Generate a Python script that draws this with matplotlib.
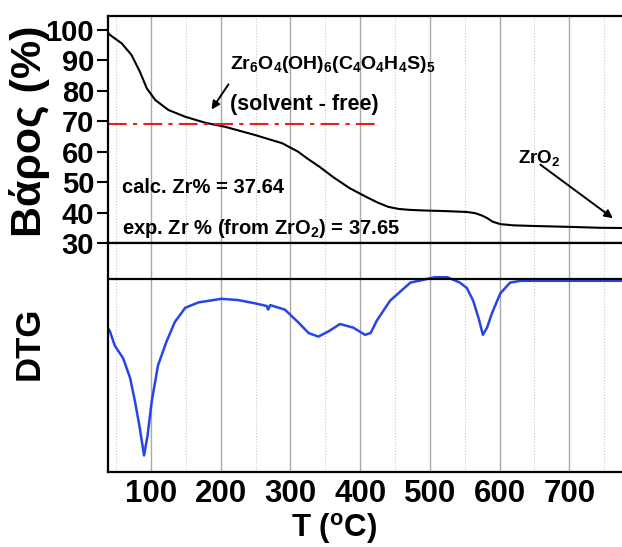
import matplotlib
matplotlib.use("Agg")
import matplotlib.pyplot as plt
from matplotlib.ticker import MultipleLocator

plt.rcParams['font.family'] = ['Liberation Sans', 'DejaVu Sans']
plt.rcParams['font.weight'] = 'bold'
plt.rcParams['mathtext.fontset'] = 'custom'
plt.rcParams['mathtext.rm'] = 'Liberation Sans:bold'
plt.rcParams['mathtext.it'] = 'Liberation Sans:bold'
plt.rcParams['mathtext.bf'] = 'Liberation Sans:bold'

# TGA curve (weight %)
tga_T = [38, 41, 58, 72, 84, 94, 106, 125, 149, 178, 206, 249, 288, 311, 324,
         342, 361, 385, 410, 425, 440, 455, 470, 490, 520, 553, 565, 575, 582,
         590, 601, 620, 648, 700, 744, 790]
tga_w = [99.2, 98.4, 95.6, 91.8, 86.3, 80.8, 77, 73.7, 71.5, 69.5, 68.2, 65.5,
         62.8, 60, 57.8, 55, 51.7, 48, 45, 43.3, 41.9, 41.2, 40.9, 40.7, 40.5,
         40.2, 39.8, 39.0, 38.2, 37.0, 36.2, 35.8, 35.6, 35.3, 35, 34.9]

# DTG curve (arbitrary units)
dtg_T = [38, 41, 48, 60, 70, 77, 84, 90, 95, 101, 110, 122, 134, 149, 168, 201,
         225, 249, 266, 268, 271, 292, 311, 326, 340, 355, 371, 390, 407, 415,
         424, 443, 472, 490, 507, 525, 543, 553, 562, 570, 576, 582, 589, 601,
         615, 630, 700, 790]
dtg_v = [-0.27, -0.29, -0.37, -0.44, -0.55, -0.68, -0.83, -0.98, -0.87, -0.68,
         -0.48, -0.35, -0.24, -0.16, -0.13, -0.11, -0.117, -0.135, -0.15, -0.17,
         -0.145, -0.17, -0.24, -0.30, -0.32, -0.29, -0.25, -0.27, -0.31, -0.30,
         -0.23, -0.12, -0.02, -0.005, 0.01, 0.01, -0.02, -0.05, -0.12, -0.22,
         -0.31, -0.27, -0.19, -0.08, -0.02, -0.01, -0.01, -0.01]

solvent_free = 69.2
x_ticks = [100, 200, 300, 400, 500, 600, 700]
y_ticks = [30, 40, 50, 60, 70, 80, 90, 100]

W, H = 622, 547
fig = plt.figure(figsize=(W / 100, H / 100), dpi=100)

def box(x0, y0, x1, y1):
    return [x0 / W, 1 - y1 / H, (x1 - x0) / W, (y1 - y0) / H]

ax1 = fig.add_axes(box(108, 16, 630, 243))
ax2 = fig.add_axes(box(108, 243, 630, 472))

for ax in (ax1, ax2):
    ax.set_xlim(38.3, 787)
    ax.xaxis.set_major_locator(MultipleLocator(100))
    ax.xaxis.set_minor_locator(MultipleLocator(50))
    ax.grid(True, which='major', axis='x', color='#a8a8a8', lw=1)
    ax.grid(True, which='minor', axis='x', color='#c8c8c8', lw=0.8, ls=':')
    ax.set_axisbelow(True)
    for s in ax.spines.values():
        s.set_linewidth(1.6)
    ax.spines['right'].set_visible(False)
    ax.tick_params(axis='x', which='both', length=0)

# top panel: TGA
ax1.plot(tga_T, tga_w, color='black', lw=1.5)
ax1.plot([38.3, 426], [solvent_free, solvent_free], color='#e8201c', lw=1.5,
         ls=(0, (9, 3, 2, 3)))
ax1.set_ylim(30, 104.6)
ax1.set_yticks(y_ticks)
ax1.tick_params(axis='y', length=8, width=1.5, labelsize=21, pad=2)
ax1.tick_params(axis='x', labelbottom=False)

ax1.text(213, 88.5, r'Zr$_6$O$_4$(OH)$_6$(C$_4$O$_4$H$_4$S)$_5$', fontsize=14,
         va='center', ha='left')
ax1.text(214, 75.4, '(solvent - free)', fontsize=15.5, va='center', ha='left')
ax1.annotate('', xy=(184.6, 73.1), xytext=(213.3, 82.9),
             arrowprops=dict(arrowstyle='-|>', color='black', lw=1.4,
                             mutation_scale=12))
ax1.text(58.4, 48.1, 'calc. Zr% = 37.64', fontsize=14.5, va='center', ha='left')
ax1.text(58.4, 34.9, r'exp. Zr % (from ZrO$_2$) = 37.65', fontsize=14.5,
         va='center', ha='left')
ax1.text(626.5, 58.0, r'ZrO$_2$', fontsize=13.5, va='center', ha='left')
ax1.annotate('', xy=(765.7, 37.6), xytext=(655.2, 56.3),
             arrowprops=dict(arrowstyle='-|>', color='black', lw=1.4,
                             mutation_scale=12))

# bottom panel: DTG
ax2.plot(dtg_T, dtg_v, color='#2545e8', lw=1.8)
ax2.axhline(0, color='black', lw=1.6)
ax2.set_ylim(-1.072, 0.2)
ax2.set_yticks([])
ax2.set_xticks(x_ticks)
ax2.tick_params(axis='x', labelsize=22.5, pad=5)

fig.text(30 / W, 1 - 131 / H, 'Βάρος (%)', rotation=90, fontsize=31,
         ha='center', va='center')
fig.text(29 / W, 1 - 343 / H, 'DTG', rotation=90, fontsize=25,
         ha='center', va='center')
fig.text(334 / W, 1 - 537 / H, r'T ($^{\mathrm{o}}$C)', fontsize=22.5,
         ha='center', va='baseline')

fig.savefig('out.png', dpi=100)
